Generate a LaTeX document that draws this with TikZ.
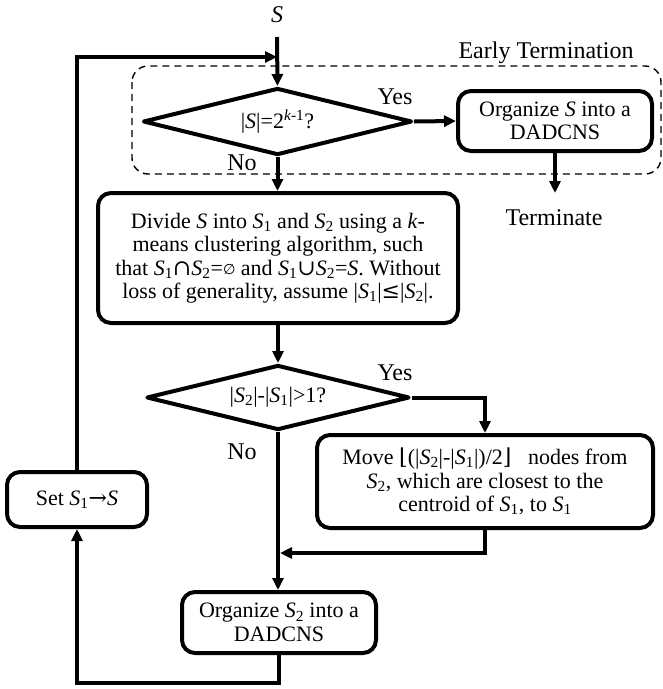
\documentclass[tikz,border=0pt]{standalone}
\usepackage{fontspec}
\usepackage{graphicx}
\setmainfont{Liberation Serif}
\newfontfamily\symfont{DejaVu Serif}
\newfontfamily\symsans{DejaVu Sans}
\usetikzlibrary{arrows.meta,shapes.geometric}
\newcommand{\sy}[1]{{\symfont #1}}
\newcommand{\Sone}{\textit{S}\textsubscript{1}}
\newcommand{\Stwo}{\textit{S}\textsubscript{2}}
\newcommand{\boxfont}{\fontsize{22}{23.5}\selectfont}
\newcommand{\lblfont}{\fontsize{24}{26}\selectfont}
\tikzset{
  box/.style={draw, line width=4pt, rounded corners=13pt, align=center, inner sep=0pt, font=\boxfont},
  dia/.style={draw, diamond, line width=4pt, line join=round, inner sep=0pt, aspect=4, font=\boxfont},
  lbl/.style={font=\lblfont, inner sep=0pt},
  conn/.style={line width=4pt, -{Triangle[length=12pt,width=11pt]}},
  early/.style={draw, line width=1.4pt, dash pattern=on 7pt off 5pt, rounded corners=16pt}
}
\begin{document}
\begin{tikzpicture}[x=1pt,y=-1pt]
\useasboundingbox (0,0) rectangle (663,689);
% early termination region
\draw[early] (132,66) rectangle (661,174);
\node[lbl] (earlylbl) at (546,53) {Early Termination};

\node[lbl] (S) at (277,15) {\textit{S}};
\coordinate (sstart) at (277,37);
\coordinate (join1) at (277,57);

\node[dia, minimum width=269pt, minimum height=67pt] (d1) at (277.5,121.5)
  {|\textit{S}|=2\textsuperscript{\textit{k}-1}?};
\node[box, minimum width=194pt, minimum height=60pt] (orgS) at (555,121)
  {Organize \textit{S} into a\\DADCNS};
\coordinate (termtip) at (555,193);
\node[lbl] (term) at (554,218) {Terminate};

\node[box, minimum width=360pt, minimum height=130pt] (div) at (278,258)
  {Divide \textit{S} into \Sone{} and \Stwo{} using a \textit{k}-\\
   means clustering algorithm, such\\
   that \Sone\sy{∩}\Stwo=\raisebox{1pt}{\scalebox{0.65}{\symsans ∅}} and \Sone\sy{∪}\Stwo=\textit{S}. Without\\
   loss of generality, assume |\Sone|\sy{≤}|\Stwo|.};

\node[dia, minimum width=263pt, minimum height=65pt] (d2) at (278,397.5)
  {|\Stwo|-|\Sone|>1?};

\node[box, minimum width=336pt, minimum height=93pt] (move) at (485,481.5)
  {Move \sy{⌊}(|\Stwo|-|\Sone|)/2\sy{⌋}\ \ \ nodes from\\
   \Stwo, which are closest to the\\
   centroid of \Sone, to \Sone};
\coordinate (join2) at (280,553);

\node[box, minimum width=140pt, minimum height=55pt] (setb) at (77,499.5)
  {Set \Sone\sy{→}\textit{S}};

\node[box, minimum width=194pt, minimum height=61pt] (orgS2) at (279,622.5)
  {Organize \Stwo{} into a\\DADCNS};

% labels
\node[lbl] (yes1) at (395,97) {Yes};
\node[lbl] (no1) at (242,163) {No};
\node[lbl] (yes2) at (395,373) {Yes};
\node[lbl] (no2) at (242,452) {No};

% connectors
\draw[conn] (sstart) -- (d1.north);
\draw[conn] (setb.north) |- (join1);
\draw[conn] (d1.east) -- (orgS.west);
\draw[conn] (orgS.south) -- (termtip);
\draw[conn] (d1.south) -- (d1.south |- div.north);
\draw[conn] (div.south) -- (d2.north);
\draw[conn] (d2.east) -| (move.north);
\draw[conn] (move.south) |- (join2);
\draw[conn] (d2.south) -- (d2.south |- orgS2.north);
\draw[conn] (orgS2.south) -- ++(0,27.5) -| (setb.south);
\end{tikzpicture}
\end{document}
